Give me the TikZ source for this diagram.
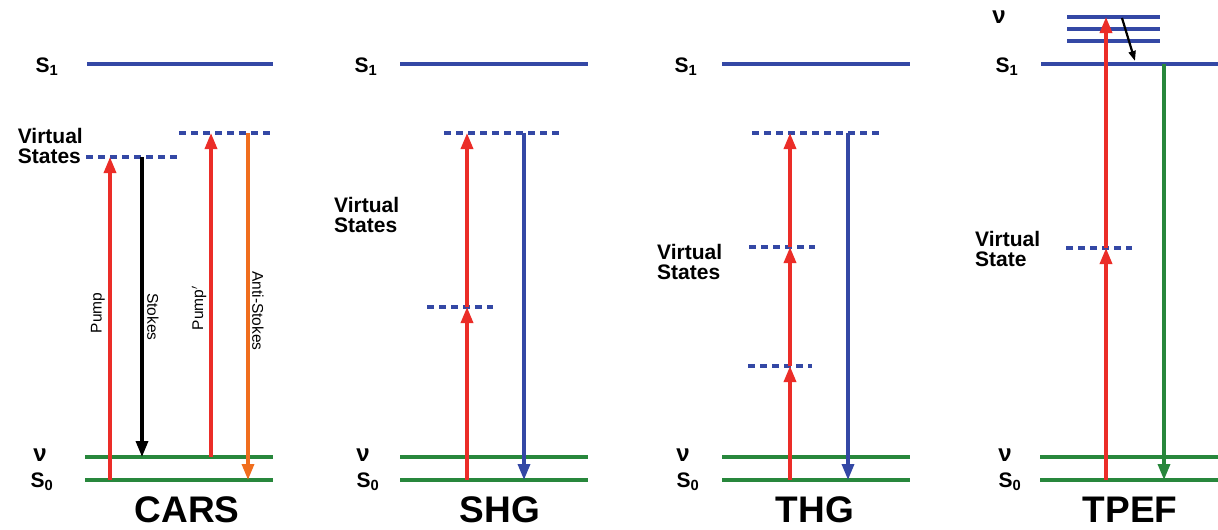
\documentclass[tikz,border=0pt]{standalone}
\usepackage{fontspec}
\setmainfont{Liberation Sans}
\usetikzlibrary{arrows.meta}
\definecolor{lvblue}{RGB}{52,72,165}
\definecolor{lvgreen}{RGB}{40,135,60}
\definecolor{arred}{RGB}{235,45,40}
\definecolor{arorange}{RGB}{240,110,30}
\tikzset{
 level/.style={line width=4.2pt},
 s1line/.style={level, draw=lvblue},
 s0line/.style={level, draw=lvgreen},
 vline/.style={draw=lvblue, line width=3.4pt, dash pattern=on 7pt off 5pt},
 tr/.style={line width=3.4pt, -{Triangle[length=16pt,width=12pt]}},
 lbl/.style={font=\fontsize{21}{21}\selectfont\bfseries, inner sep=0},
 nulbl/.style={font=\fontsize{24}{24}\selectfont\bfseries, inner sep=0},
 vlbl/.style={font=\fontsize{21}{20}\selectfont\bfseries, align=left, inner sep=0},
 ttl/.style={font=\fontsize{37}{37}\selectfont\bfseries, inner sep=0, anchor=base},
 alabel/.style={font=\fontsize{15.5}{15.5}\selectfont, inner sep=0},
}
\begin{document}
\begin{tikzpicture}[x=1pt,y=-1pt]
\useasboundingbox (0,0) rectangle (1218,530);
% ================= CARS =================
\coordinate (cS1a) at (87,64);  \coordinate (cS1b) at (273,64);
\coordinate (cNa) at (85,457);  \coordinate (cNb) at (273,457);
\coordinate (cS0a) at (85,480); \coordinate (cS0b) at (273,480);
\coordinate (cV1a) at (86,157); \coordinate (cV1b) at (177,157);
\coordinate (cV2a) at (179,133); \coordinate (cV2b) at (270,133);
\draw[s1line] (cS1a) -- (cS1b);
\draw[s0line] (cNa) -- (cNb);
\draw[s0line] (cS0a) -- (cS0b);
\draw[vline] (cV1a) -- (cV1b);
\draw[vline] (cV2a) -- (cV2b);
\node[lbl] (cS1l) at (47,67) {S\textsubscript{1}};
\node[nulbl] (cNl) at (40,455) {ν};
\node[lbl] (cS0l) at (42,482) {S\textsubscript{0}};
\node[vlbl, anchor=east] (cVl) at (83,146) {Virtual\\States};
\node[ttl] (cT) at (187,522) {CARS};
\coordinate (cp0) at (110,480); \coordinate (cp1) at (110,157);
\coordinate (cs0) at (142,157); \coordinate (cs1) at (142,457);
\coordinate (cq0) at (211,457); \coordinate (cq1) at (211,133);
\coordinate (ca0) at (248,133); \coordinate (ca1) at (248,480);
\draw[tr, arred] (cp0) -- (cp1);
\draw[tr, black] (cs0) -- (cs1);
\draw[tr, arred] (cq0) -- (cq1);
\draw[tr, arorange] (ca0) -- (ca1);
\node[alabel, rotate=90] (cPl) at (98,313) {Pump};
\node[alabel, rotate=-90] (cSl) at (153,317) {Stokes};
\node[alabel, rotate=90] (cQl) at (199,308) {Pump$'$};
\node[alabel, rotate=-90] (cAl) at (258,311) {Anti-Stokes};
% ================= SHG =================
\coordinate (sS1a) at (400,64);  \coordinate (sS1b) at (588,64);
\coordinate (sNa) at (400,457);  \coordinate (sNb) at (588,457);
\coordinate (sS0a) at (400,480); \coordinate (sS0b) at (588,480);
\coordinate (sV1a) at (444,133); \coordinate (sV1b) at (560,133);
\coordinate (sV2a) at (427,307); \coordinate (sV2b) at (493,307);
\draw[s1line] (sS1a) -- (sS1b);
\draw[s0line] (sNa) -- (sNb);
\draw[s0line] (sS0a) -- (sS0b);
\draw[vline] (sV1a) -- (sV1b);
\draw[vline] (sV2a) -- (sV2b);
\node[lbl] (sS1l) at (366,67) {S\textsubscript{1}};
\node[nulbl] (sNl) at (363,455) {ν};
\node[lbl] (sS0l) at (368,482) {S\textsubscript{0}};
\node[vlbl, anchor=west] (sVl) at (334,215) {Virtual\\States};
\node[ttl] (sT) at (500,522) {SHG};
\coordinate (sr0) at (467,480); \coordinate (sr1) at (467,307); \coordinate (sr2) at (467,133);
\coordinate (sb0) at (524,133); \coordinate (sb1) at (524,480);
\draw[tr, arred] (sr0) -- (sr1);
\draw[tr, arred] (sr1) -- (sr2);
\draw[tr, lvblue] (sb0) -- (sb1);
% ================= THG =================
\coordinate (tS1a) at (722,64);  \coordinate (tS1b) at (910,64);
\coordinate (tNa) at (722,457);  \coordinate (tNb) at (910,457);
\coordinate (tS0a) at (722,480); \coordinate (tS0b) at (910,480);
\coordinate (tV1a) at (752,133); \coordinate (tV1b) at (880,133);
\coordinate (tV2a) at (749,247); \coordinate (tV2b) at (815,247);
\coordinate (tV3a) at (748,366); \coordinate (tV3b) at (812,366);
\draw[s1line] (tS1a) -- (tS1b);
\draw[s0line] (tNa) -- (tNb);
\draw[s0line] (tS0a) -- (tS0b);
\draw[vline] (tV1a) -- (tV1b);
\draw[vline] (tV2a) -- (tV2b);
\draw[vline] (tV3a) -- (tV3b);
\node[lbl] (tS1l) at (686,67) {S\textsubscript{1}};
\node[nulbl] (tNl) at (683,455) {ν};
\node[lbl] (tS0l) at (688,482) {S\textsubscript{0}};
\node[vlbl, anchor=west] (tVl) at (657,262) {Virtual\\States};
\node[ttl] (tT) at (815,522) {THG};
\coordinate (tr0) at (790,480); \coordinate (tr1) at (790,366);
\coordinate (tr2) at (790,247); \coordinate (tr3) at (790,133);
\coordinate (tb0) at (848,133); \coordinate (tb1) at (848,480);
\draw[tr, arred] (tr0) -- (tr1);
\draw[tr, arred] (tr1) -- (tr2);
\draw[tr, arred] (tr2) -- (tr3);
\draw[tr, lvblue] (tb0) -- (tb1);
% ================= TPEF =================
\coordinate (pS1a) at (1041,64);  \coordinate (pS1b) at (1218,64);
\coordinate (pNa) at (1040,457);  \coordinate (pNb) at (1218,457);
\coordinate (pS0a) at (1040,480); \coordinate (pS0b) at (1218,480);
\coordinate (pU1a) at (1067,17);  \coordinate (pU1b) at (1160,17);
\coordinate (pU2a) at (1067,29);  \coordinate (pU2b) at (1160,29);
\coordinate (pU3a) at (1067,41);  \coordinate (pU3b) at (1160,41);
\coordinate (pVa) at (1066,248);  \coordinate (pVb) at (1132,248);
\draw[s1line] (pS1a) -- (pS1b);
\draw[s1line] (pU1a) -- (pU1b);
\draw[s1line] (pU2a) -- (pU2b);
\draw[s1line] (pU3a) -- (pU3b);
\draw[s0line] (pNa) -- (pNb);
\draw[s0line] (pS0a) -- (pS0b);
\draw[vline] (pVa) -- (pVb);
\node[nulbl] (pUl) at (999,17) {ν};
\node[lbl] (pS1l) at (1007,67) {S\textsubscript{1}};
\node[nulbl] (pNl) at (1005,455) {ν};
\node[lbl] (pS0l) at (1010,482) {S\textsubscript{0}};
\node[vlbl, anchor=west] (pVl) at (975,249) {Virtual\\State};
\node[ttl] (pT) at (1130,522) {TPEF};
\coordinate (pr0) at (1106,480); \coordinate (pr1) at (1106,248); \coordinate (pr2) at (1106,17);
\coordinate (pg0) at (1164,64);  \coordinate (pg1) at (1164,480);
\coordinate (pk0) at (1122,18);  \coordinate (pk1) at (1135,61);
\draw[tr, arred] (pr0) -- (pr1);
\draw[tr, arred] (pr1) -- (pr2);
\draw[tr, lvgreen] (pg0) -- (pg1);
\draw[line width=2.2pt, -{Triangle[length=10pt,width=7pt]}] (pk0) -- (pk1);
\end{tikzpicture}
\end{document}
